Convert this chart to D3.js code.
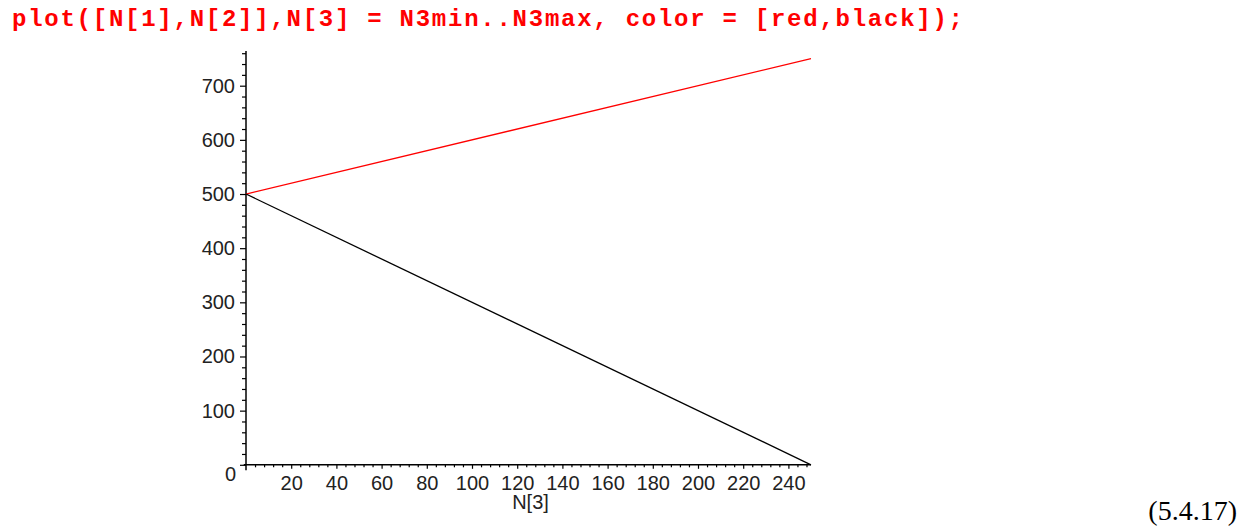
<!DOCTYPE html>
<html>
<head>
<meta charset="utf-8">
<script src="https://cdn.jsdelivr.net/npm/d3@7"></script>
<style>
  html, body { margin: 0; padding: 0; background: #fff; }
  svg { display: block; }
  .tick text { font-family: "Liberation Sans", Arial, sans-serif; font-size: 20px; fill: #222; }
</style>
</head>
<body>
<svg id="chart" width="1247" height="531"></svg>
<script>
// N[3] sweeps from N3min to N3max; N[1] and N[2] are linear in N[3]
const n3Values = [0, 250];
const n1Values = [500, 750];   // red
const n2Values = [500, 0];     // black
const seriesColors = ["#ff0000", "#000000"];
const xTickLabels = [20, 40, 60, 80, 100, 120, 140, 160, 180, 200, 220, 240];
const yTickLabels = [0, 100, 200, 300, 400, 500, 600, 700];
const commandText = "plot([N[1],N[2]],N[3] = N3min..N3max, color = [red,black]);";
const xAxisTitle = "N[3]";
const equationTag = "(5.4.17)";

const svg = d3.select("#chart");

const x = d3.scaleLinear().domain([0, 250]).range([246, 811]);
const y = d3.scaleLinear().domain([0, 700]).range([464.8, 85.7]);

// Maple input line
svg.append("text")
  .attr("x", 12).attr("y", 26)
  .attr("font-family", "'Liberation Mono', 'Courier New', monospace")
  .attr("font-weight", "bold")
  .attr("font-size", 24)
  .attr("fill", "#ff0000")
  .attr("textLength", 951)
  .attr("lengthAdjust", "spacing")
  .text(commandText);

// equation number
svg.append("text")
  .attr("x", 1237).attr("y", 520)
  .attr("text-anchor", "end")
  .attr("font-family", "'Liberation Serif', 'Times New Roman', serif")
  .attr("font-size", 28)
  .attr("fill", "#000")
  .text(equationTag);

// axis lines
svg.append("line")
  .attr("x1", x(0)).attr("x2", x(0))
  .attr("y1", y(-10)).attr("y2", y(764))
  .attr("stroke", "#000").attr("stroke-width", 1.5);
svg.append("line")
  .attr("x1", x(-1)).attr("x2", x(250))
  .attr("y1", y(0)).attr("y2", y(0))
  .attr("stroke", "#000").attr("stroke-width", 1.5);

// y minor ticks
const yMinor = d3.range(0, 761, 20).filter(v => v % 100 !== 0);
svg.append("g")
  .attr("transform", `translate(${x(0)},0)`)
  .call(d3.axisLeft(y).tickValues(yMinor).tickSize(4).tickFormat(""))
  .call(g => g.select(".domain").remove())
  .call(g => g.selectAll("line").attr("stroke-width", 1.2));

// y major ticks + labels
svg.append("g")
  .attr("transform", `translate(${x(0)},0)`)
  .call(d3.axisLeft(y).tickValues(yTickLabels).tickSize(6).tickPadding(5).tickFormat(d3.format("d")))
  .call(g => g.select(".domain").remove())
  .call(g => g.selectAll("line").attr("stroke-width", 1.2))
  .call(g => g.selectAll(".tick text").filter(d => d === 0).attr("dy", "0.78em").attr("x", -10));

// x minor ticks
const xMinor = d3.range(4, 249, 4).filter(v => v % 20 !== 0);
svg.append("g")
  .attr("transform", `translate(0,${y(0)})`)
  .call(d3.axisBottom(x).tickValues(xMinor).tickSize(2.5).tickFormat(""))
  .call(g => g.select(".domain").remove())
  .call(g => g.selectAll("line").attr("stroke-width", 1.2));

// x major ticks + labels
svg.append("g")
  .attr("transform", `translate(0,${y(0)})`)
  .call(d3.axisBottom(x).tickValues(xTickLabels).tickSize(4).tickPadding(7).tickFormat(d3.format("d")))
  .call(g => g.select(".domain").remove())
  .call(g => g.selectAll("line").attr("stroke-width", 1.2));

// x axis title
svg.append("text")
  .attr("x", (x(0) + x(250)) / 2 + 2).attr("y", 509)
  .attr("text-anchor", "middle")
  .attr("font-family", "'Liberation Sans', Arial, sans-serif")
  .attr("font-size", 20)
  .attr("fill", "#222")
  .text(xAxisTitle);

// curves
const line = d3.line().x(d => x(d[0])).y(d => y(d[1]));
[n1Values, n2Values].forEach((vals, i) => {
  svg.append("path")
    .datum(n3Values.map((v, j) => [v, vals[j]]))
    .attr("d", line)
    .attr("fill", "none")
    .attr("stroke", seriesColors[i])
    .attr("stroke-width", 1.3);
});
</script>
</body>
</html>
